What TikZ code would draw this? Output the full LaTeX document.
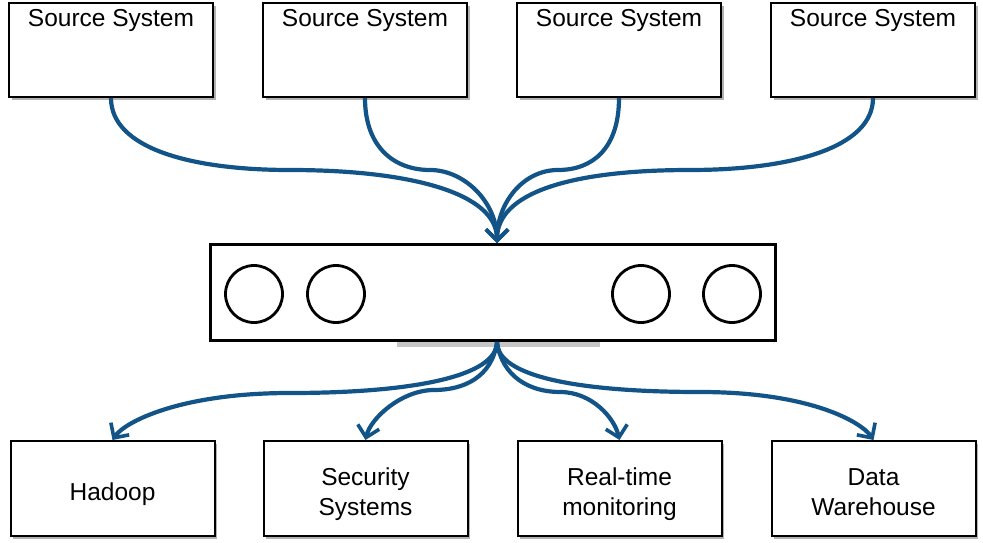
\documentclass[tikz,border=0pt]{standalone}
\usepackage{fontspec}
\setmainfont{Liberation Sans}
\usetikzlibrary{arrows.meta,shadows}
\definecolor{flow}{RGB}{18,84,136}
\begin{document}
\begin{tikzpicture}[x=1pt,y=-1pt,
  box/.style={draw=black,line width=2pt,fill=white,minimum width=204pt,minimum height=94pt,inner sep=0pt,
    drop shadow={shadow xshift=2.5pt,shadow yshift=-3pt,opacity=0.3,fill=black}},
  lbl/.style={font=\fontsize{24.5}{30}\selectfont,align=center,inner sep=0pt},
  ring/.style={draw=black,line width=2.8pt,circle,minimum size=57pt,inner sep=0pt},
  flowline/.style={draw=flow,line width=4.2pt,-{Straight Barb[length=11pt,width=22pt,line width=3.6pt]}}
]
\useasboundingbox (0,0) rectangle (983,543);
% top boxes
\node[box] (s1) at (111,50) {};
\node[box] (s2) at (365,50) {};
\node[box] (s3) at (619,50) {};
\node[box] (s4) at (873,50) {};
\node[lbl] (t1) at (111,20.5) {Source System};
\node[lbl] (t2) at (365,20.5) {Source System};
\node[lbl] (t3) at (619,20.5) {Source System};
\node[lbl] (t4) at (873,20.5) {Source System};
% hub
\fill[gray!45] (397,342) rectangle (600,347);
\node[draw=black,line width=2.8pt,fill=white,minimum width=565pt,minimum height=96pt,inner sep=0pt] (hub) at (493,292.5) {};
\node[ring] (c1) at (254,294) {};
\node[ring] (c2) at (336,294) {};
\node[ring] (c3) at (641,294) {};
\node[ring] (c4) at (732,294) {};
\coordinate (hin) at (497,243);
\coordinate (hout) at (497,342);
% bottom boxes
\node[box,minimum height=95pt] (b1) at (112.5,488.5) {};
\node[box,minimum height=95pt] (b2) at (365.5,488.5) {};
\node[box,minimum height=95pt] (b3) at (619.5,488.5) {};
\node[box,minimum height=95pt] (b4) at (873.5,488.5) {};
\node[lbl] (u1) at (112.5,494) {Hadoop};
\node[lbl] (u2) at (365.5,494) {Security\\Systems};
\node[lbl] (u3) at (619.5,494) {Real-time\\monitoring};
\node[lbl] (u4) at (873.5,492) {Data\\Warehouse};
% mid points
\coordinate (m1) at (290,170);
\coordinate (m2) at (430,170);
\coordinate (m3) at (558,170);
\coordinate (m4) at (690,170);
\coordinate (n1) at (290,393);
\coordinate (n2) at (434,390);
\coordinate (n3) at (560,392);
\coordinate (n4) at (700,392);
% incoming
\draw[flowline] (s1.south) .. controls +(0,50) and +(-100,0) .. (m1) .. controls +(120,0) and +(0,-50) .. (hin);
\draw[flowline] (s2.south) .. controls +(0,50) and +(-35,0) .. (m2) .. controls +(35,0) and +(0,-40) .. (hin);
\draw[flowline] (s3.south) .. controls +(0,50) and +(35,0) .. (m3) .. controls +(-35,0) and +(0,-40) .. (hin);
\draw[flowline] (s4.south) .. controls +(0,50) and +(100,0) .. (m4) .. controls +(-120,0) and +(0,-50) .. (hin);
% outgoing
\draw[flowline] (hout) .. controls +(0,35) and +(120,0) .. (n1) .. controls +(-110,0) and +(12,-18) .. (b1.north);
\draw[flowline] (hout) .. controls +(-5,35) and +(30,0) .. (n2) .. controls +(-32,0) and +(5,-22) .. (b2.north);
\draw[flowline] (hout) .. controls +(5,35) and +(-30,0) .. (n3) .. controls +(32,0) and +(-5,-22) .. (b3.north);
\draw[flowline] (hout) .. controls +(0,35) and +(-120,0) .. (n4) .. controls +(110,0) and +(-12,-18) .. (b4.north);
\end{tikzpicture}
\end{document}
